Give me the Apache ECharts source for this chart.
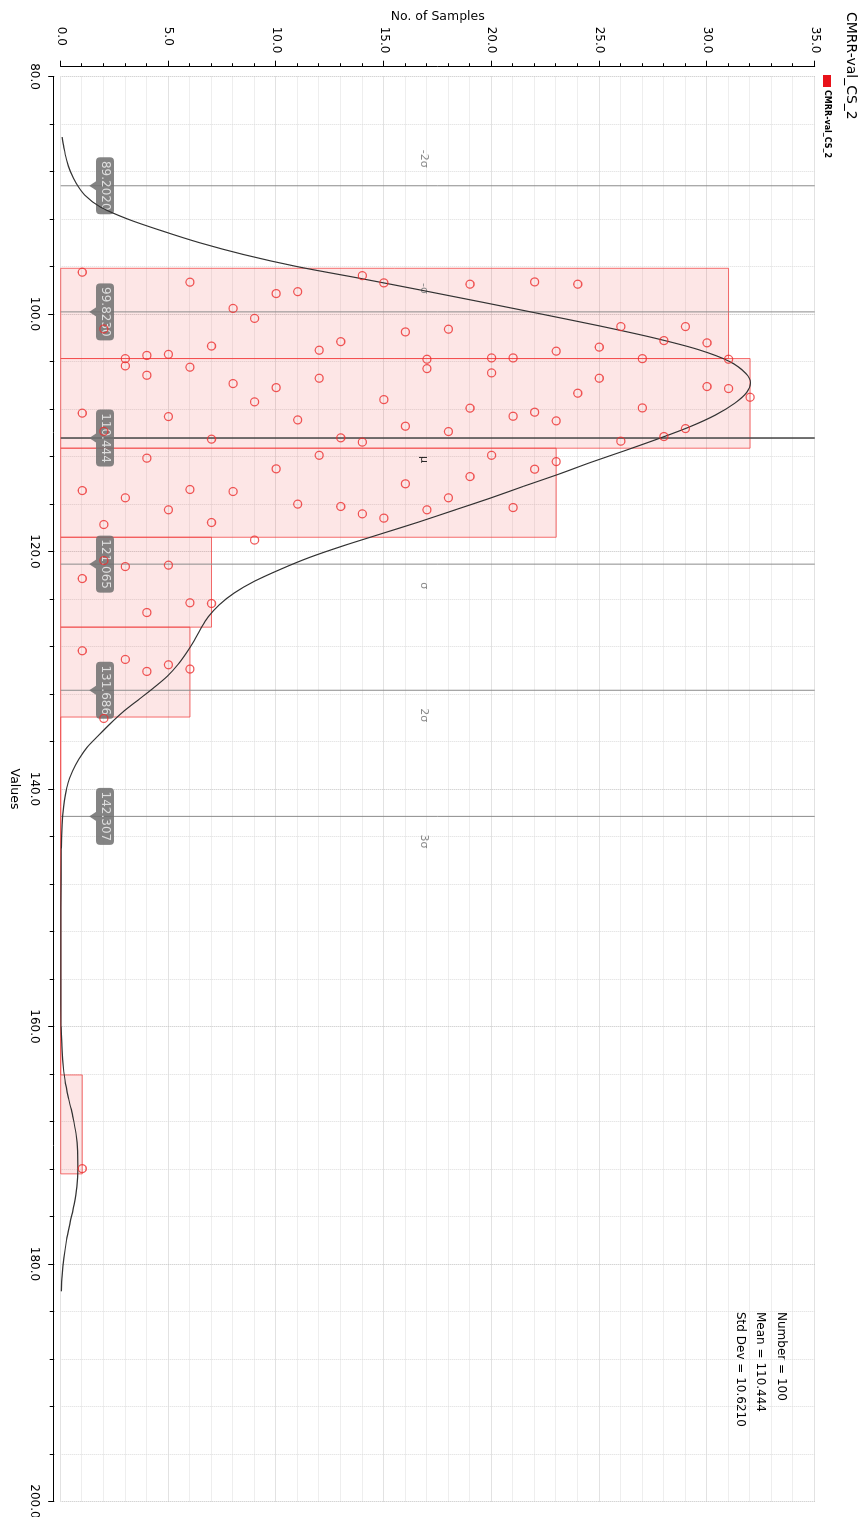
<!DOCTYPE html>
<html>
<head>
<meta charset="utf-8">
<script src="https://cdn.jsdelivr.net/npm/echarts@6/dist/echarts.min.js"></script>
<style>
  html, body { margin: 0; padding: 0; background: #fff; overflow: hidden; width: 864px; height: 1517px; }
  /* the plot is laid out landscape and turned a quarter clockwise onto the portrait page */
  #chart { position: absolute; left: 0; top: 0; width: 1517px; height: 864px;
           transform-origin: 0 0; transform: translate(864px, 0) rotate(90deg); }
</style>
</head>
<body>
<div id="chart"></div>
<script>
// ---- data ----
const seriesName = 'CMRR-val_CS_2';

// histogram bin edges (measured value)
const binEdges = [96.15, 103.75, 111.30, 118.80, 126.37, 133.94, 141.47, 149.00, 156.54, 164.08, 172.41];

// individual samples per bin, in the order they are stacked (1st, 2nd, ... sample of the bin)
const samplesBin1 = [96.48, 101.26, 103.76, 103.49, 103.40, 97.32, 102.70, 99.53, 100.37, 98.28,
                     98.12, 103.05, 102.33, 96.77, 97.38, 101.51, 103.81, 101.28, 97.49, 103.70,
                     103.70, 97.30, 103.13, 97.49, 102.79, 101.06, 103.76, 102.24, 101.06, 102.43, 103.81];
const samplesBin2 = [108.35, 109.88, 104.37, 105.16, 108.64, 104.48, 110.54, 105.86, 107.40, 106.20,
                     108.92, 105.41, 110.43, 110.79, 107.21, 109.45, 104.60, 109.90, 107.93, 104.96,
                     108.61, 108.27, 109.00, 106.67, 105.41, 110.71, 107.91, 110.32, 109.65, 106.11,
                     106.28, 107.01];
const samplesBin3 = [114.87, 117.73, 115.48, 112.14, 116.49, 114.78, 117.56, 114.95, 119.04, 113.04,
                     116.01, 111.90, 116.21, 116.83, 117.19, 114.30, 116.49, 115.48, 113.69, 111.90,
                     116.30, 113.07, 112.43];
const samplesBin4 = [122.28, 120.76, 121.27, 125.14, 121.15, 124.32, 124.38];
const samplesBin5 = [128.36, 134.06, 129.09, 130.10, 129.54, 129.90];
const samplesBin6 = [];
const samplesBin7 = [];
const samplesBin8 = [];
const samplesBin9 = [];
const samplesBin10 = [171.97];
const binSamples = [samplesBin1, samplesBin2, samplesBin3, samplesBin4, samplesBin5,
                    samplesBin6, samplesBin7, samplesBin8, samplesBin9, samplesBin10];

// smoothed distribution curve (value, no. of samples)
const curveValues = [85.1, 86, 87, 88, 89, 90, 91, 92, 93, 94,
                     95, 96, 97, 98, 99, 100, 101, 102, 103, 104,
                     105, 105.8, 106.6, 107.5, 108.5, 109.5, 110.5, 111.5, 112.5, 113.5,
                     114.5, 115.5, 116.5, 117.5, 118.5, 119.5, 120.5, 121.5, 122.5, 123.5,
                     124.5, 125.5, 126.5, 127.5, 128.5, 129.5, 130.5, 131.5, 132.5, 133.5,
                     134.5, 135.5, 136.5, 137.5, 138.5, 139.5, 140.5, 141.5, 143, 145,
                     150, 156, 160, 161.5, 163, 164.5, 166, 167.5, 169, 170.5,
                     172, 173.5, 175, 176.5, 178, 179.5, 181, 182.3];
const curveCounts = [0.07, 0.15, 0.27, 0.45, 0.72, 1.12, 1.85, 3.10, 4.70, 6.45,
                     8.50, 10.95, 13.90, 16.75, 19.55, 22.30, 25.00, 27.50, 29.60, 31.05,
                     31.80, 32.02, 31.85, 31.30, 30.40, 29.20, 27.75, 26.20, 24.60, 23.10,
                     21.50, 19.95, 18.30, 16.65, 14.90, 13.15, 11.55, 10.20, 9.00, 8.05,
                     7.35, 6.85, 6.50, 6.20, 5.85, 5.45, 4.95, 4.30, 3.60, 2.90,
                     2.30, 1.75, 1.22, 0.84, 0.55, 0.34, 0.22, 0.14, 0.07, 0.03,
                     0.01, 0.01, 0.02, 0.05, 0.10, 0.20, 0.36, 0.55, 0.71, 0.79,
                     0.80, 0.75, 0.62, 0.44, 0.27, 0.15, 0.07, 0.03];

// summary statistics
const statNumber = 100;
const statMean = 110.444;
const statStdDev = 10.621;
const sigmaSteps = [-2, -1, 0, 1, 2, 3];
const sigmaNames = ['-2σ', '-σ', 'μ', 'σ', '2σ', '3σ'];

// axis ranges
const valueAxisRange = [80, 200, 20];
const countAxisRange = [0, 35, 5];

// ---- chart ----
const FONT = 'DejaVu Sans';
const chart = echarts.init(document.getElementById('chart'), null, { renderer: 'canvas' });

const binCounts = binSamples.map(s => s.length);
const barData = binCounts.map((c, i) => [binEdges[i], binEdges[i + 1], c]);
const pointData = [];
binSamples.forEach(list => list.forEach((v, i) => pointData.push([v, i + 1])));
const curveData = curveValues.map((v, i) => [v, curveCounts[i]]);
const sigmaData = sigmaSteps.map(k => [statMean + k * statStdDev, k]);
const TAG_LEVEL = 16.85; // count level where the sigma names sit

const option = {
  animation: false,
  backgroundColor: '#fff',
  textStyle: { fontFamily: FONT },
  title: {
    text: seriesName, left: 7, top: 1,
    textStyle: { fontFamily: FONT, fontSize: 14, fontWeight: 'normal', color: '#000' }
  },
  legend: {
    data: [seriesName], left: 75, top: 33, padding: 0,
    itemWidth: 12, itemHeight: 8, itemGap: 4, icon: 'rect',
    textStyle: { fontFamily: FONT, fontSize: 8, fontWeight: 'bold', color: '#000', padding: [0, 0, 0, -2] }
  },
  grid: { left: 76.5, right: 15.5, top: 49.3, bottom: 60.7, containLabel: false, outerBoundsMode: 'none' },
  xAxis: {
    type: 'value', min: valueAxisRange[0], max: valueAxisRange[1], interval: valueAxisRange[2],
    position: 'bottom', offset: 6.5,
    name: 'Values', nameLocation: 'middle', nameGap: 33, nameMoveOverlap: false,
    nameTextStyle: { fontFamily: FONT, fontSize: 12.5, color: '#000' },
    axisLine: { show: true, onZero: false, lineStyle: { color: '#000', width: 1 } },
    axisTick: { show: true, inside: false, length: 6, lineStyle: { color: '#000' } },
    minorTick: { show: true, splitNumber: 5, length: 4.5, lineStyle: { color: '#000' } },
    axisLabel: { formatter: v => v.toFixed(1), margin: 14, fontFamily: FONT, fontSize: 12, color: '#000' },
    splitLine: { show: true, lineStyle: { color: '#c4c4c4', type: [1, 1], width: 1 } },
    minorSplitLine: { show: true, lineStyle: { color: '#dcdcdc', type: [1, 1], width: 1 } }
  },
  yAxis: {
    type: 'value', min: countAxisRange[0], max: countAxisRange[1], interval: countAxisRange[2],
    position: 'left', offset: 9.8,
    name: 'No. of Samples', nameLocation: 'middle', nameRotate: 90, nameGap: 43, nameMoveOverlap: false,
    nameTextStyle: { fontFamily: FONT, fontSize: 12.5, color: '#000' },
    axisLine: { show: true, onZero: false, lineStyle: { color: '#000', width: 1 } },
    axisTick: { show: true, inside: false, length: 6, lineStyle: { color: '#000' } },
    minorTick: { show: true, splitNumber: 5, length: 3.5, lineStyle: { color: '#000' } },
    axisLabel: { formatter: v => v.toFixed(1), margin: 40, align: 'left', fontFamily: FONT, fontSize: 12, color: '#000' },
    splitLine: { show: true, lineStyle: { color: '#c4c4c4', type: [1, 1], width: 1 } },
    minorSplitLine: { show: true, lineStyle: { color: '#dcdcdc', type: [1, 1], width: 1 } }
  },
  graphic: [{
    type: 'text', left: 1312, top: 73,
    style: {
      text: 'Number = ' + statNumber + '\nMean = ' + statMean.toPrecision(6) + '\nStd Dev = ' + statStdDev.toPrecision(6),
      font: '12px "' + FONT + '"', fill: '#000', lineHeight: 20.5
    }
  }],
  series: [
    {
      name: seriesName, type: 'custom', z: 1,
      itemStyle: { color: '#e8121a' },
      data: barData,
      encode: { x: [0, 1], y: 2 },
      renderItem: (params, api) => {
        const a = api.coord([api.value(0), api.value(2)]);
        const b = api.coord([api.value(1), 0]);
        return {
          type: 'rect',
          shape: { x: a[0], y: a[1], width: b[0] - a[0], height: b[1] - a[1] },
          style: { fill: 'rgba(236,50,50,0.12)', stroke: 'rgba(242,70,70,0.78)', lineWidth: 1 }
        };
      }
    },
    {
      name: 'sigma', type: 'custom', z: 2, silent: true,
      data: sigmaData,
      encode: { x: 0 },
      renderItem: (params, api) => {
        const v = api.value(0);
        const k = api.value(1);
        const top = api.coord([v, countAxisRange[1]]);
        const bot = api.coord([v, 0]);
        const x = bot[0];
        const isMean = k === 0;
        const tagY = api.coord([v, TAG_LEVEL])[1];
        const idx = sigmaSteps.indexOf(k);
        return {
          type: 'group',
          children: [
            { type: 'line', shape: { x1: x, y1: bot[1], x2: x, y2: top[1] },
              style: { stroke: isMean ? '#4d4d4d' : '#8c8c8c', lineWidth: isMean ? 1.6 : 1 } },
            { type: 'rect', shape: { x: x - 28.5, y: bot[1] - 53.3, width: 57, height: 18, r: 4 },
              style: { fill: 'rgba(112,112,112,0.86)' } },
            { type: 'polygon', shape: { points: [[x - 4.5, bot[1] - 35.4], [x + 4.5, bot[1] - 35.4], [x, bot[1] - 28.6]] },
              style: { fill: 'rgba(112,112,112,0.86)' } },
            { type: 'text', style: { text: v.toPrecision(6), x: x, y: bot[1] - 44.3, align: 'center', verticalAlign: 'middle',
              font: '12px "' + FONT + '"', fill: '#dedede' } },
            { type: 'text', style: { text: sigmaNames[idx], x: x + (k < 0 ? -18 : 18), y: tagY,
              align: k < 0 ? 'right' : 'left', verticalAlign: 'middle',
              font: '11px "' + FONT + '"', fill: isMean ? '#222' : '#8a8a8a' } }
          ]
        };
      }
    },
    {
      name: 'curve', type: 'line', z: 3, silent: true,
      data: curveData, smooth: 0.3, showSymbol: false, symbol: 'none',
      lineStyle: { color: '#333', width: 1.2 }
    },
    {
      name: 'samples', type: 'scatter', z: 4, silent: true,
      data: pointData, symbol: 'circle', symbolSize: 8,
      itemStyle: { color: 'rgba(0,0,0,0)', borderColor: '#ec2e2e', borderWidth: 1.3 }
    }
  ]
};
chart.setOption(option);
</script>
</body>
</html>
